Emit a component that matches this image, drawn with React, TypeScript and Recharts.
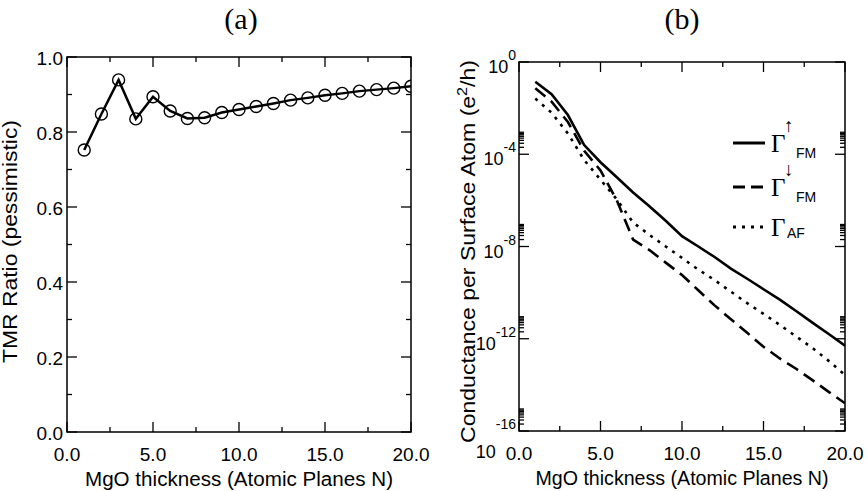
import { LineChart, Line, XAxis, YAxis, Legend, Label, ReferenceArea } from 'recharts';

// MgO thickness in atomic planes
const planes = [1, 2, 3, 4, 5, 6, 7, 8, 9, 10, 11, 12, 13, 14, 15, 16, 17, 18, 19, 20];

// panel (a): pessimistic TMR ratio
const tmrRatio = [0.752, 0.848, 0.939, 0.835, 0.894, 0.856, 0.836, 0.838, 0.852, 0.86,
  0.868, 0.876, 0.885, 0.891, 0.898, 0.903, 0.909, 0.913, 0.917, 0.922];

// panel (b): conductance per surface atom (e^2/h)
const gFmUp = [1.4e-1, 4.0e-2, 5.0e-3, 2.5e-4, 4.5e-5, 1.0e-5, 2.2e-6, 5.6e-7, 1.3e-7, 2.8e-8,
  1.0e-8, 3.5e-9, 1.1e-9, 4.0e-10, 1.4e-10, 5.0e-11, 1.6e-11, 5.0e-12, 1.6e-12, 5.0e-13];
const gFmDown = [7.2e-2, 1.9e-2, 2.5e-3, 1.4e-4, 2.0e-5, 1.0e-6, 2.0e-8, 7.0e-9, 2.0e-9, 5.8e-10,
  1.26e-10, 2.8e-11, 7.0e-12, 1.8e-12, 4.5e-13, 1.4e-13, 5.0e-14, 1.6e-14, 5.0e-15, 1.6e-15];
const gAf = [2.6e-2, 6.3e-3, 7.9e-4, 5.6e-5, 7.9e-6, 1.1e-6, 1.1e-7, 3.2e-8, 1.0e-8, 3.2e-9,
  1.0e-9, 3.5e-10, 1.1e-10, 3.5e-11, 1.2e-11, 4.0e-12, 1.26e-12, 4.0e-13, 1.1e-13, 2.7e-14];

// ticks
const xTicks = [0, 2.5, 5, 7.5, 10, 12.5, 15, 17.5, 20];
const xMajor = [0, 5, 10, 15, 20];
const tmrTicks = [0, 0.1, 0.2, 0.3, 0.4, 0.5, 0.6, 0.7, 0.8, 0.9, 1.0];
const tmrMajor = [0, 0.2, 0.4, 0.6, 0.8, 1.0];
const gMajorExp = [0, -4, -8, -12, -16];
const gMinorMantissa = [2, 3, 4, 5, 6, 7, 8, 9];

const gMajor = gMajorExp.map((e) => Math.pow(10, e));
const gMinor = gMajorExp.filter((e) => e < 0).flatMap((e) => gMinorMantissa.map((m) => m * Math.pow(10, e)));
const gTicks = [...gMajor, ...gMinor];

const tmrData = planes.map((n, i) => ({ n, tmr: tmrRatio[i] }));
const gData = planes.map((n, i) => ({ n, up: gFmUp[i], down: gFmDown[i], af: gAf[i] }));

const SANS = 'Liberation Sans, Arial, Helvetica, sans-serif';
const SERIF = 'Liberation Serif, Times New Roman, DejaVu Serif, serif';
const MAJOR_LEN = 10;
const MINOR_LEN = 5;

// chart geometry
const A = { w: 440, h: 491, m: { top: 57, right: 29, bottom: 0, left: 7 }, yw: 60, xh: 59 };
const B = { w: 428, h: 491, m: { top: 62, right: 23, bottom: 0, left: 19 }, yw: 60, xh: 60 };
const plotW = (c: typeof A) => c.w - c.m.left - c.m.right - c.yw;
const plotH = (c: typeof A) => c.h - c.m.top - c.m.bottom - c.xh;

// relative comparison so tiny log values work too
const isMajor = (list: number[], v: number) =>
  list.some((m) => (m === 0 ? Math.abs(v) < 1e-9 : Math.abs(m - v) < 1e-6 * Math.abs(m)));

function XTick(props: any) {
  const { x, y, payload, span } = props;
  const len = isMajor(xMajor, payload.value) ? MAJOR_LEN : MINOR_LEN;
  return (
    <g>
      <line x1={x} x2={x} y1={y} y2={y - len} stroke="#000" strokeWidth={1.3} />
      <line x1={x} x2={x} y1={y - span} y2={y - span + len} stroke="#000" strokeWidth={1.3} />
      {len === MAJOR_LEN && (
        <text x={x} y={y + 29} textAnchor="middle" fontSize={19} fontFamily={SANS} fill="#000">
          {payload.value.toFixed(1)}
        </text>
      )}
    </g>
  );
}

function TmrTick(props: any) {
  const { x, y, payload, span } = props;
  const len = isMajor(tmrMajor, payload.value) ? MAJOR_LEN : MINOR_LEN;
  return (
    <g>
      <line x1={x} x2={x + len} y1={y} y2={y} stroke="#000" strokeWidth={1.3} />
      <line x1={x + span} x2={x + span - len} y1={y} y2={y} stroke="#000" strokeWidth={1.3} />
      {len === MAJOR_LEN && (
        <text x={x - 4} y={y + 8} textAnchor="end" fontSize={19} fontFamily={SANS} fill="#000">
          {payload.value.toFixed(1)}
        </text>
      )}
    </g>
  );
}

function LogTick(props: any) {
  const { x, y, payload, span } = props;
  const major = isMajor(gMajor, payload.value);
  const len = major ? MAJOR_LEN : MINOR_LEN;
  const exp = Math.round(Math.log10(payload.value));
  // lowest label sits below the axis line
  const shift = exp === -16 ? 16 : 0;
  return (
    <g>
      <line x1={x} x2={x + len} y1={y} y2={y} stroke="#000" strokeWidth={1.3} />
      <line x1={x + span} x2={x + span - len} y1={y} y2={y} stroke="#000" strokeWidth={1.3} />
      {major && (
        <text x={x - 3} y={y + 11 + shift} textAnchor="end" fontSize={18} fontFamily={SANS} fill="#000">
          10
          <tspan dy={-13 - shift} fontSize={14}>{exp}</tspan>
        </text>
      )}
    </g>
  );
}

function xLabel(length: number) {
  return (props: any) => {
    const vb = props.viewBox;
    return (
      <text x={vb.x + vb.width / 2} y={vb.y + 54} textAnchor="middle" fontSize={20} fontFamily={SANS}
        textLength={length} lengthAdjust="spacingAndGlyphs" fill="#000">
        MgO thickness (Atomic Planes N)
      </text>
    );
  };
}

function tmrYLabel(props: any) {
  const vb = props.viewBox;
  const cx = vb.x + 10;
  const cy = vb.y + vb.height / 2 - 3;
  return (
    <text x={cx} y={cy} transform={`rotate(-90, ${cx}, ${cy})`} textAnchor="middle" fontSize={20}
      fontFamily={SANS} textLength={243} lengthAdjust="spacingAndGlyphs" fill="#000">
      TMR Ratio (pessimistic)
    </text>
  );
}

function gYLabel(props: any) {
  const vb = props.viewBox;
  const cx = vb.x + 16;
  const cy = vb.y + vb.height / 2 + 5;
  return (
    <text x={cx} y={cy} transform={`rotate(-90, ${cx}, ${cy})`} textAnchor="middle" fontSize={20}
      fontFamily={SANS} textLength={383} lengthAdjust="spacingAndGlyphs" fill="#000">
      Conductance per Surface Atom (e
      <tspan dy={-8} fontSize={14}>2</tspan>
      <tspan dy={8}>/h)</tspan>
    </text>
  );
}

const legendRows = [
  { dash: undefined, arrow: '\u2191', sub: 'FM' },
  { dash: '12 6', arrow: '\u2193', sub: 'FM' },
  { dash: '3 6', arrow: '', sub: 'AF' },
];

function LegendBox() {
  const rowY = [33, 77, 117];
  return (
    <svg width={130} height={135} style={{ display: 'block', overflow: 'visible' }}>
      {legendRows.map((r, i) => (
        <g key={i}>
          <line x1={3} x2={35} y1={rowY[i]} y2={rowY[i]} stroke="#000" strokeWidth={3} strokeDasharray={r.dash} />
          <text x={41} y={rowY[i] + 9} fontSize={25} fontFamily={SERIF} fill="#000">{'\u0393'}</text>
          {r.arrow && (
            <text x={54} y={rowY[i] - 11} fontSize={19} fontFamily={SERIF} fill="#000">{r.arrow}</text>
          )}
          <text x={r.arrow ? 66 : 57} y={rowY[i] + (r.arrow ? 15 : 11)} fontSize={14} fontFamily={SANS} fill="#000">
            {r.sub}
          </text>
        </g>
      ))}
    </svg>
  );
}

export default function App() {
  return (
    <div style={{ position: 'absolute', left: 0, top: 0, width: 868, height: 491, background: '#fff' }}>
      <div style={{ position: 'absolute', left: 0, top: 0 }}>
        <LineChart width={A.w} height={A.h} data={tmrData} margin={A.m}>
          <XAxis dataKey="n" type="number" domain={[0, 20]} ticks={xTicks} interval={0} allowDataOverflow
            height={A.xh} tickLine={false} tickSize={0} tickMargin={0} axisLine={false}
            tick={<XTick span={plotH(A)} />}>
            <Label content={xLabel(308)} />
          </XAxis>
          <YAxis type="number" domain={[0, 1]} ticks={tmrTicks} interval={0} allowDataOverflow width={A.yw}
            tickLine={false} tickSize={0} tickMargin={0} axisLine={false} tick={<TmrTick span={plotW(A)} />}>
            <Label content={tmrYLabel} />
          </YAxis>
          <ReferenceArea x1={0} x2={20} y1={0} y2={1} fill="none" stroke="#000" strokeWidth={1.5}
            fillOpacity={0} />
          <Line type="linear" dataKey="tmr" stroke="#000" strokeWidth={2.5}
            dot={{ r: 6, fill: 'none', stroke: '#000', strokeWidth: 1.4 }} isAnimationActive={false} />
        </LineChart>
      </div>
      <div style={{ position: 'absolute', left: 440, top: 0 }}>
        <LineChart width={B.w} height={B.h} data={gData} margin={B.m}>
          <XAxis dataKey="n" type="number" domain={[0, 20]} ticks={xTicks} interval={0} allowDataOverflow
            height={B.xh} tickLine={false} tickSize={0} tickMargin={0} axisLine={false}
            tick={<XTick span={plotH(B)} />}>
            <Label content={xLabel(293)} />
          </XAxis>
          <YAxis type="number" scale="log" domain={[1e-16, 1]} ticks={gTicks} interval={0} allowDataOverflow
            width={B.yw} tickLine={false} tickSize={0} tickMargin={0} axisLine={false}
            tick={<LogTick span={plotW(B)} />}>
            <Label content={gYLabel} />
          </YAxis>
          <ReferenceArea x1={0} x2={20} y1={1e-16} y2={1} fill="none" stroke="#000" strokeWidth={1.5}
            fillOpacity={0} />
          <Line type="linear" dataKey="up" stroke="#000" strokeWidth={2.6} dot={false} isAnimationActive={false} />
          <Line type="linear" dataKey="down" stroke="#000" strokeWidth={2.6} strokeDasharray="13 7" dot={false}
            isAnimationActive={false} />
          <Line type="linear" dataKey="af" stroke="#000" strokeWidth={2.6} strokeDasharray="3 6" dot={false}
            isAnimationActive={false} />
          <Legend layout="horizontal" verticalAlign="middle" align="center" content={() => <LegendBox />}
            wrapperStyle={{ position: 'absolute', left: 290, top: 110, width: 130, height: 135 }} />
        </LineChart>
      </div>
      <svg width={868} height={491} style={{ position: 'absolute', left: 0, top: 0, pointerEvents: 'none' }}>
        <text x={241} y={29} textAnchor="middle" fontSize={30} fontFamily={SERIF} fill="#000">(a)</text>
        <text x={682} y={29} textAnchor="middle" fontSize={30} fontFamily={SERIF} fill="#000">(b)</text>
      </svg>
    </div>
  );
}
